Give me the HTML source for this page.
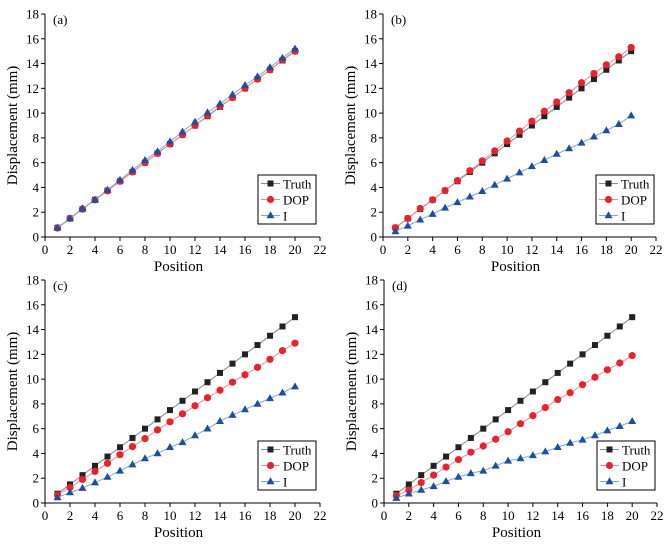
<!DOCTYPE html>
<html><head><meta charset="utf-8"><style>
body{margin:0;background:#fff;}
svg{display:block;font-family:"Liberation Serif",serif;}
</style></head><body>
<svg id="c" width="669" height="548" viewBox="0 0 669 548" xmlns="http://www.w3.org/2000/svg"></svg>
<script>
const positions=[1,2,3,4,5,6,7,8,9,10,11,12,13,14,15,16,17,18,19,20];
const xTicks=[0,2,4,6,8,10,12,14,16,18,20,22];
const yTicks=[0,2,4,6,8,10,12,14,16,18];
const truth=[0.75,1.5,2.25,3,3.75,4.5,5.25,6,6.75,7.5,8.25,9,9.75,10.5,11.25,12,12.75,13.5,14.25,15];
const dopA=[0.72,1.5,2.25,3.0,3.72,4.5,5.25,6.0,6.75,7.5,8.25,9.0,9.8,10.55,11.25,12.0,12.75,13.5,14.3,15.0];
const iA=[0.75,1.5,2.3,3.0,3.8,4.6,5.4,6.2,6.9,7.7,8.5,9.3,10.05,10.75,11.5,12.25,12.95,13.7,14.45,15.2];
const dopB=[0.75,1.5,2.3,3.0,3.75,4.55,5.35,6.15,6.95,7.75,8.55,9.35,10.15,10.9,11.65,12.45,13.2,13.9,14.55,15.3];
const iB=[0.45,0.9,1.4,1.85,2.35,2.8,3.25,3.7,4.2,4.7,5.2,5.7,6.2,6.7,7.15,7.6,8.1,8.6,9.1,9.8];
const dopC=[0.65,1.25,1.9,2.55,3.2,3.9,4.55,5.2,5.9,6.55,7.2,7.85,8.5,9.1,9.75,10.35,10.95,11.6,12.3,12.9];
const iC=[0.45,0.85,1.2,1.65,2.1,2.6,3.1,3.6,4.0,4.5,4.9,5.45,6.0,6.6,7.1,7.55,8.0,8.45,8.9,9.4];
const dopD=[0.6,1.05,1.65,2.25,2.9,3.5,4.1,4.6,5.15,5.75,6.4,7.05,7.7,8.35,8.9,9.55,10.15,10.75,11.3,11.9];
const iD=[0.4,0.75,1.05,1.35,1.75,2.1,2.4,2.6,3.0,3.4,3.6,3.85,4.15,4.5,4.85,5.1,5.45,5.85,6.2,6.6];
const panelLabels=["(a)","(b)","(c)","(d)"];
const panelDop=[dopA,dopB,dopC,dopD];
const panelI=[iA,iB,iC,iD];
const frames=[{x0:45,x1:320,y0:237,y1:14},{x0:383,x1:656,y0:237,y1:14},{x0:45,x1:320,y0:503,y1:280},{x0:384,x1:657,y0:503,y1:280}];
const NS="http://www.w3.org/2000/svg";
const svg=document.getElementById('c');
function mk(tag,attrs,parent,text){const e=document.createElementNS(NS,tag);for(const k in attrs)e.setAttribute(k,attrs[k]);if(text!==undefined)e.textContent=text;(parent||svg).appendChild(e);return e;}
frames.forEach((f,p)=>{
  const g=mk('g',{});
  
  
  const sx=v=>f.x0+(f.x1-f.x0)*v/22;
  const sy=v=>f.y0+(f.y1-f.y0)*v/18;
  const ax=mk('g',{stroke:'#000','stroke-width':1},g);
  
  
  mk('line',{x1:f.x0,y1:f.y0,x2:f.x1,y2:f.y0},ax);
  mk('line',{x1:f.x0,y1:f.y0,x2:f.x0,y2:f.y1},ax);
  xTicks.forEach(t=>{mk('line',{x1:sx(t),y1:f.y0,x2:sx(t),y2:f.y0+4},ax);
    const tl=mk('text',{x:sx(t),y:f.y0+17,'text-anchor':'middle','font-size':13},g,t);
    
    });
  yTicks.forEach(t=>{mk('line',{x1:f.x0-4,y1:sy(t),x2:f.x0,y2:sy(t)},ax);
    const tl=mk('text',{x:f.x0-6,y:sy(t)+4.5,'text-anchor':'end','font-size':13},g,t);
    
    });
  const xt=mk('text',{x:(f.x0+f.x1)/2-4,y:f.y0+34,'text-anchor':'middle','font-size':15},g,'Position');
  
  
  const ymid=(f.y0+f.y1)/2;
  const yt=mk('text',{x:f.x0-28,y:ymid,'text-anchor':'middle','font-size':15,transform:`rotate(-90 ${f.x0-28} ${ymid})`},g,'Displacement (mm)');
  
  
  const pl=mk('text',{x:f.x0+8,y:f.y1+10,'font-size':13},g,panelLabels[p]);
  
  
  const series=[{name:'Truth',vals:truth,line:'#8a8a8a',fill:'#222',m:'sq'},{name:'DOP',vals:panelDop[p],line:'#f08a94',fill:'#e8222e',m:'ci'},{name:'I',vals:panelI[p],line:'#7ea6d8',fill:'#1f4e9c',m:'tr'}];
  function marker(par,m,x,y,fill){
    if(m==='sq')return mk('rect',{x:x-3,y:y-3,width:6,height:6,fill:fill},par);
    if(m==='ci')return mk('circle',{cx:x,cy:y,r:3.6,fill:fill},par);
    return mk('path',{d:`M${x} ${y-4.2}L${x+4} ${y+2.8}L${x-4} ${y+2.8}Z`,fill:fill},par);
  }
  series.forEach(s=>{
    const sg=mk('g',{},g);
    
    
    mk('polyline',{points:positions.map((x,i)=>sx(x)+','+sy(s.vals[i])).join(' '),fill:'none',stroke:s.line,'stroke-width':1},sg);
    positions.forEach((x,i)=>{const mm=marker(sg,s.m,sx(x),sy(s.vals[i]),s.fill);
      
      });
  });
  const lx=f.x0+213, ly=f.y0-62;
  const lg=mk('g',{},g);
  
  
  mk('rect',{x:lx,y:ly,width:58,height:49,fill:'#fff',stroke:'#000','stroke-width':1},lg);
  series.forEach((s,i)=>{
    const yy=ly+8.5+i*16;
    const e=mk('g',{},lg);
    
    
    mk('line',{x1:lx+3,y1:yy,x2:lx+22,y2:yy,stroke:s.line},e);
    marker(e,s.m,lx+12.5,yy,s.fill);
    mk('text',{x:lx+25,y:yy+5,'font-size':13},e,s.name);
  });
});
</script>
</body></html>
